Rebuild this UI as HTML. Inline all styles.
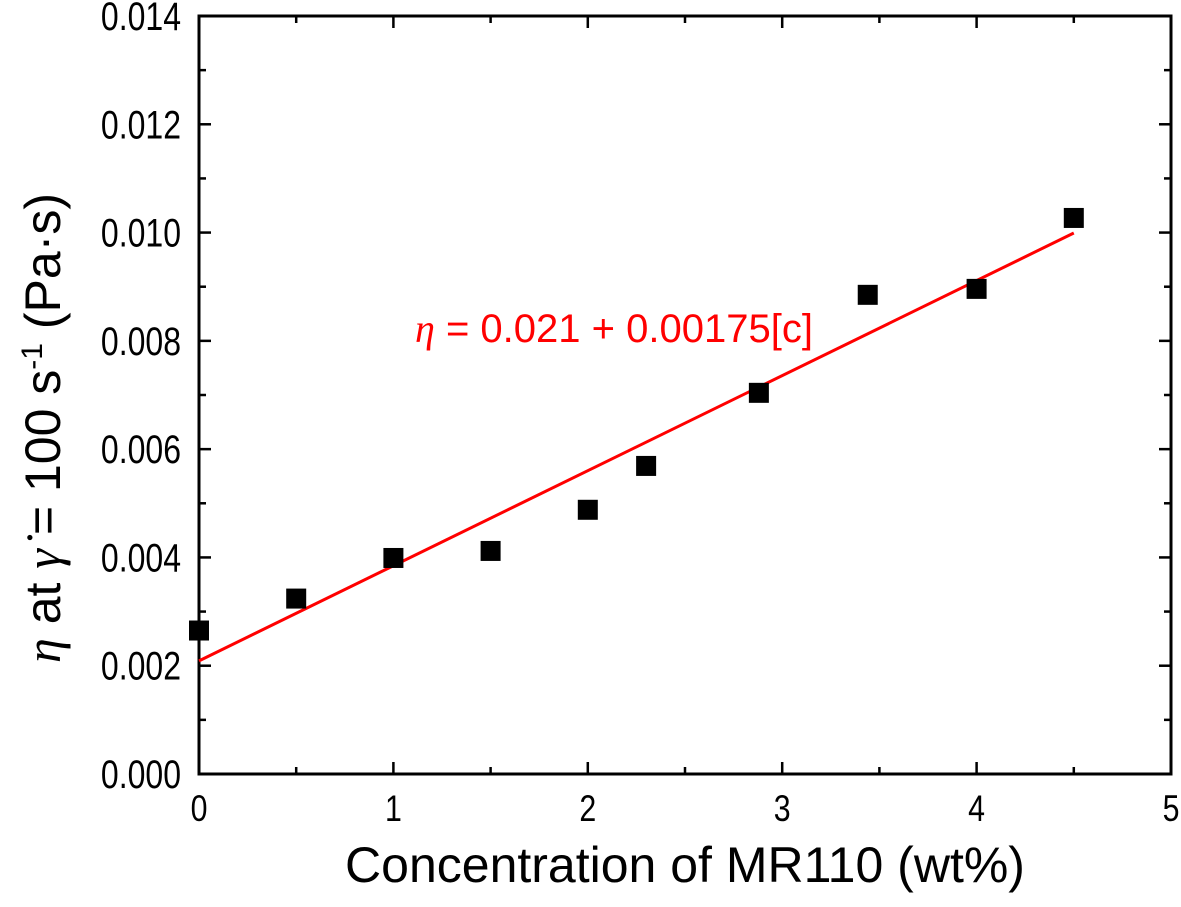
<!DOCTYPE html>
<html><head><meta charset="utf-8"><style>body{margin:0;background:#fff}svg{display:block}text{font-family:"Liberation Sans",Arial,sans-serif}</style></head>
<body>
<svg id="c" width="1181" height="907"></svg>
<script>
const xs=[0,0.5,1,1.5,2,2.3,2.88,3.44,4.0,4.5];
const ys=[0.00265,0.00324,0.00399,0.00412,0.00488,0.00569,0.00704,0.00885,0.00896,0.01027];
const fitIntercept=0.00209, fitSlope=0.001756;
const xTicks=[0,1,2,3,4,5];
const yTicks=[0,0.002,0.004,0.006,0.008,0.010,0.012,0.014];
const L=199,R=1171,T=16,B=774;
const X=v=>L+(v/5)*(R-L), Y=v=>B-(v/0.014)*(B-T);
const s=document.getElementById('c'),NS='http://www.w3.org/2000/svg';
function el(t,a,p){const e=document.createElementNS(NS,t);for(const k in a)e.setAttribute(k,a[k]);(p||s).appendChild(e);return e;}
let e;
e=el('rect',{x:L,y:T,width:R-L,height:B-T,fill:'none',stroke:'#000','stroke-width':3});


xTicks.forEach((v,i)=>{
 [[B,-1],[T,1]].forEach(([y0,d])=>{el('line',{x1:X(v),x2:X(v),y1:y0,y2:y0+d*12,stroke:'#000','stroke-width':2.5});
  if(i<5)el('line',{x1:X(v+0.5),x2:X(v+0.5),y1:y0,y2:y0+d*7,stroke:'#000','stroke-width':2.5});});
 e=el('text',{transform:`translate(${X(v)},821) scale(0.82,1)`,'font-size':37,'text-anchor':'middle'});e.textContent=v;
 
 
});
yTicks.forEach((v,i)=>{
 [[L,1],[R,-1]].forEach(([x0,d])=>{el('line',{x1:x0,x2:x0+d*12,y1:Y(v),y2:Y(v),stroke:'#000','stroke-width':2.5});
  if(i<7)el('line',{x1:x0,x2:x0+d*7,y1:Y(v+0.001),y2:Y(v+0.001),stroke:'#000','stroke-width':2.5});});
 e=el('text',{transform:`translate(181,${Y(v)+14}) scale(0.8,1)`,'font-size':40,'text-anchor':'end'});e.textContent=v.toFixed(3);
 
 
});
e=el('line',{x1:X(0),y1:Y(fitIntercept),x2:X(4.5),y2:Y(fitIntercept+fitSlope*4.5),stroke:'#f00','stroke-width':3});


xs.forEach((v,i)=>{
 e=el('rect',{x:X(v)-10,y:Y(ys[i])-10,width:20,height:20,fill:'#000'});
 
 
});
e=el('text',{x:415,y:342,'font-size':40,fill:'#f00'});
e.innerHTML='<tspan font-style="italic" font-family="Liberation Serif">η</tspan> = 0.021 + 0.00175[c]';


e=el('text',{x:685,y:882,'font-size':50,'text-anchor':'middle'});e.textContent='Concentration of MR110 (wt%)';


e=el('text',{transform:'translate(60,428) rotate(-90)','font-size':50,'text-anchor':'middle'});
e.innerHTML='<tspan font-style="italic" font-family="Liberation Serif">η</tspan> at <tspan font-style="italic" font-family="Liberation Serif">γ̇</tspan> = 100 s<tspan dy="-18" font-size="30">-1</tspan><tspan dy="18"> (Pa·s)</tspan>';


</script>
</body></html>
